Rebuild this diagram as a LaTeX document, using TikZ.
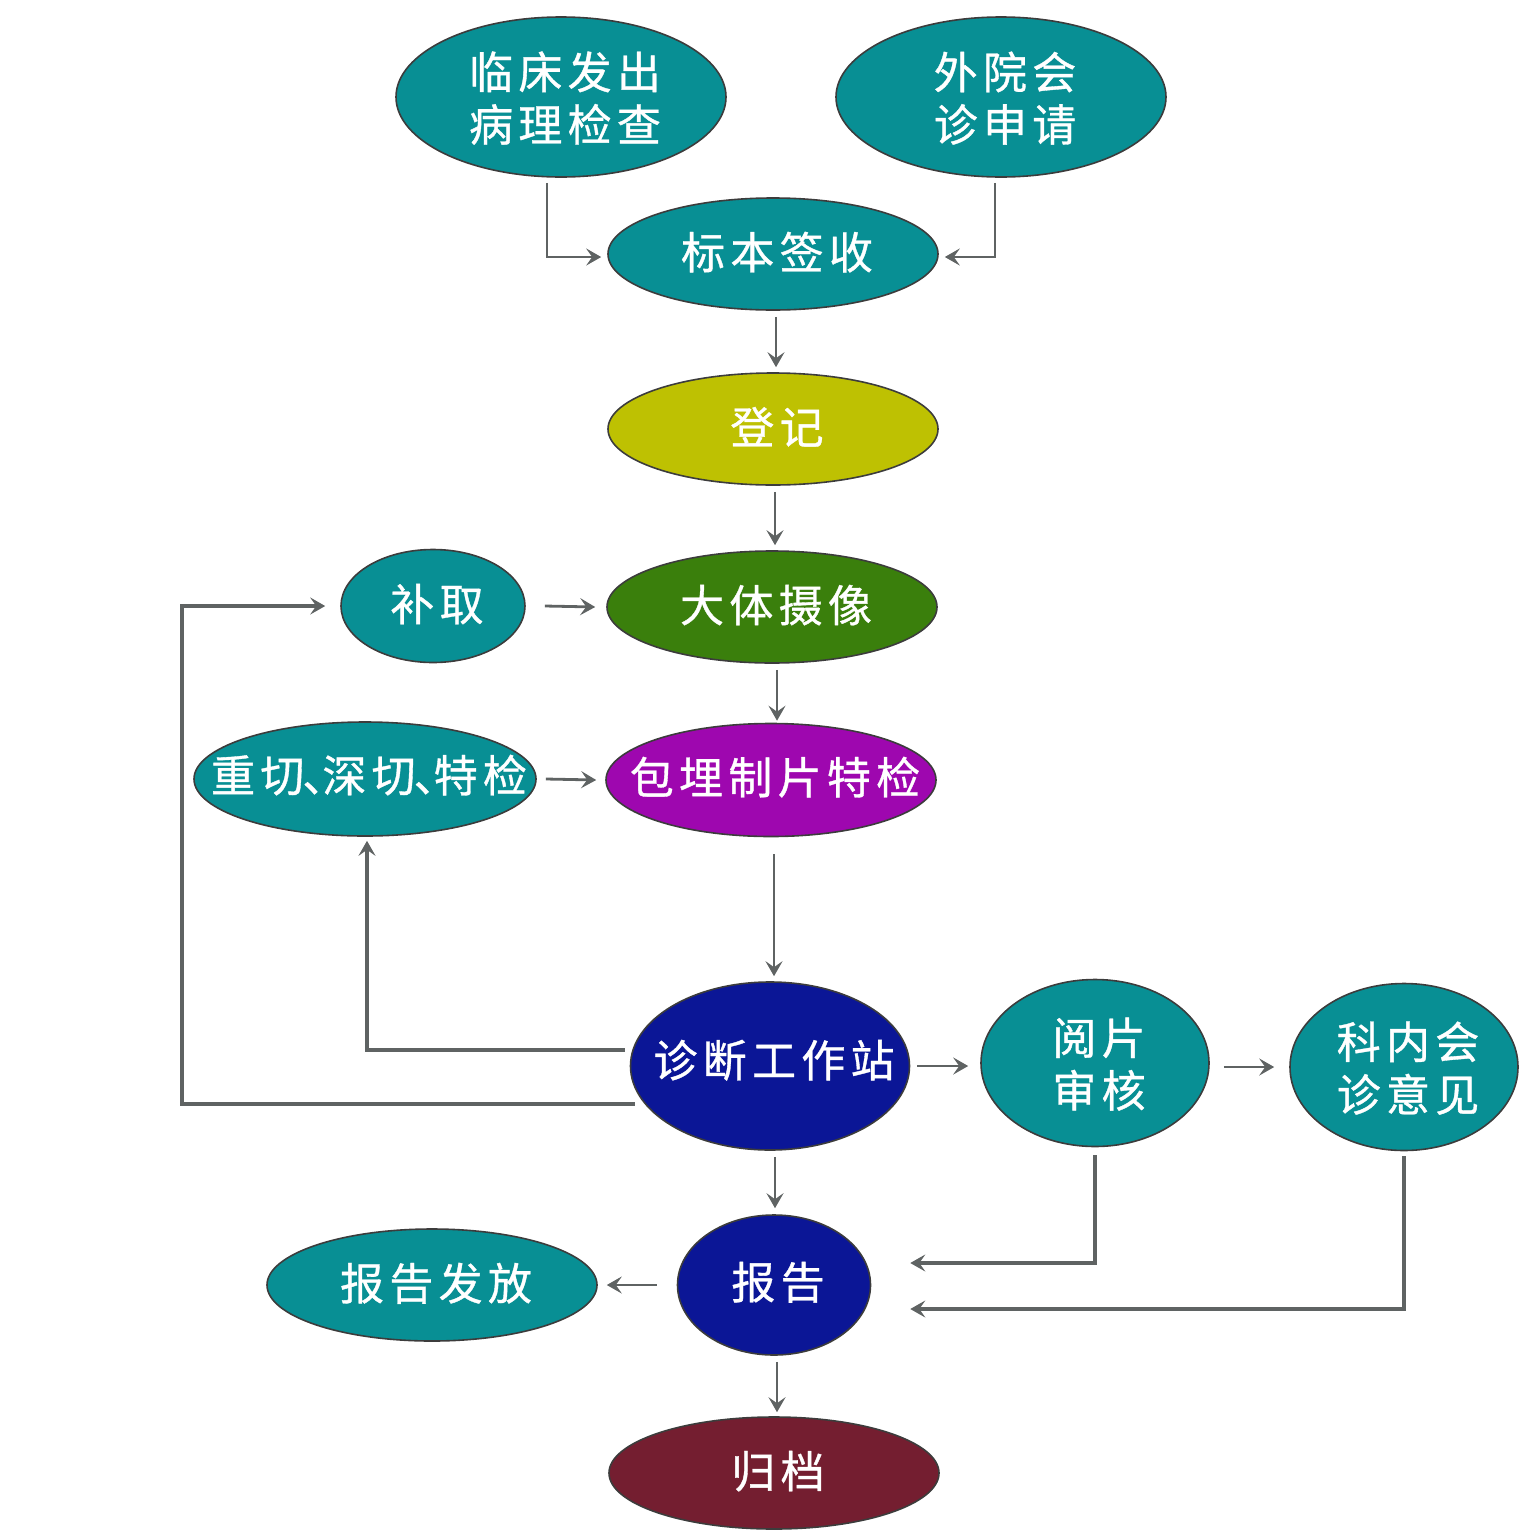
\documentclass[tikz,border=0pt]{standalone}
\usepackage{fontspec}
\setmainfont{Noto Sans CJK SC}[LetterSpace=12,FakeBold=0.8]
\usetikzlibrary{shapes.geometric,arrows.meta,calc}
\definecolor{tealc}{RGB}{8,143,148}
\definecolor{olivec}{RGB}{190,193,2}
\definecolor{greenc}{RGB}{58,127,12}
\definecolor{purplec}{RGB}{158,7,175}
\definecolor{navyc}{RGB}{11,22,150}
\definecolor{maroonc}{RGB}{116,30,48}
\definecolor{linec}{RGB}{95,99,99}
\definecolor{borderc}{RGB}{60,60,60}
\newcommand{\tx}[2][-4pt]{\makebox[0pt][c]{\kern8pt\raisebox{#1}[\height][\depth]{\begin{tabular}{@{}c@{}}#2\end{tabular}}}}
\begin{document}
\begin{tikzpicture}[x=1pt,y=-1pt,
  ell/.style={ellipse, draw=borderc, line width=1.6pt, inner sep=0pt, text=white,
    font=\fontsize{44}{51}\selectfont, fill=tealc},
  arr/.style={draw=linec, line width=2.8pt, -{Stealth[length=15pt,width=17pt,inset=6pt]}},
  arrb/.style={arr, line width=3.5pt},
]
\useasboundingbox (0,0) rectangle (1525,1537);
\node[ell, minimum width=330pt, minimum height=160pt] (lc) at (561,97) {\tx[-7pt]{临床发出\\病理检查}};
\node[ell, minimum width=330pt, minimum height=160pt] (wy) at (1001,97) {\tx[-7pt]{外院会\\诊申请}};
\node[ell, minimum width=330pt, minimum height=112pt] (bb) at (773,254) {\tx{标本签收}};
\node[ell, fill=olivec, minimum width=330pt, minimum height=112pt] (dj) at (773,429) {\tx{登记}};
\node[ell, fill=greenc, minimum width=330pt, minimum height=112pt] (dt) at (772,607) {\tx{大体摄像}};
\node[ell, minimum width=184pt, minimum height=113pt] (bq) at (433,606) {\tx{补取}};
\node[ell, minimum width=342pt, minimum height=114pt] (cq) at (365,779) {\tx[-2pt]{重切\kern-2pt、\kern-24pt 深切\kern-2pt、\kern-24pt 特检}};
\node[ell, fill=purplec, minimum width=330pt, minimum height=113pt] (bm) at (771,780) {\tx[-3pt]{包埋制片特检}};
\node[ell, fill=navyc, minimum width=279pt, minimum height=168pt] (zd) at (770,1066) {\tx[0pt]{诊断工作站}};
\node[ell, minimum width=228pt, minimum height=167pt] (yp) at (1095,1063) {\tx[-7pt]{阅片\\审核}};
\node[ell, minimum width=228pt, minimum height=167pt] (kn) at (1404,1067) {\tx[-7pt]{科内会\\诊意见}};
\node[ell, fill=navyc, minimum width=193pt, minimum height=140pt] (bg) at (774,1285) {\tx[-3pt]{报告}};
\node[ell, minimum width=330pt, minimum height=112pt] (ff) at (432,1285) {\tx{报告发放}};
\node[ell, fill=maroonc, minimum width=330pt, minimum height=112pt] (gd) at (774,1473) {\tx{归档}};
\coordinate (lx) at (182,1104);

\draw[arr] ([xshift=-14pt,yshift=-5pt]lc.south) |- ([xshift=-6pt,yshift=-3pt]bb.west);
\draw[arr] ([xshift=-6pt,yshift=-5pt]wy.south) |- ([xshift=6pt,yshift=-3pt]bb.east);
\draw[arr] ([xshift=3pt,yshift=-6pt]bb.south) -- ([xshift=3pt,yshift=5pt]dj.north);
\draw[arr] ([xshift=2pt,yshift=-6pt]dj.south) -- ([xshift=3pt,yshift=5pt]dt.north);
\draw[arr] ([xshift=19pt]bq.east) -- ([xshift=-11pt]dt.west);
\draw[arr] ([xshift=5pt,yshift=-6pt]dt.south) -- ([xshift=6pt,yshift=2pt]bm.north);
\draw[arr] ([xshift=9pt]cq.east) -- ([xshift=-9pt]bm.west);
\draw[arr] ([xshift=3pt,yshift=-17pt]bm.south) -- ([xshift=4pt,yshift=5pt]zd.north);
\draw[arrb] ([xshift=-5pt,yshift=16pt]zd.west) -| ([xshift=2pt,yshift=-4pt]cq.south);
\draw[arrb] ([xshift=5pt,yshift=-38pt]zd.west) -- (lx) |- ([xshift=-15pt]bq.west);
\draw[arr] ([xshift=7pt]zd.east) -- ([xshift=-12pt,yshift=-3pt]yp.west);
\draw[arr] ([xshift=14pt,yshift=-4pt]yp.east) -- ([xshift=-15pt]kn.west);
\draw[arr] ([xshift=5pt,yshift=-6pt]zd.south) -- ([xshift=1pt,yshift=6pt]bg.north);
\draw[arrb] ([yshift=-8pt]yp.south) |- ([xshift=39pt,yshift=22pt]bg.east);
\draw[arrb] ([yshift=-5pt]kn.south) |- ([xshift=39pt,yshift=-24pt]bg.east);
\draw[arr] ([xshift=-20pt]bg.west) -- ([xshift=9pt]ff.east);
\draw[arr] ([xshift=3pt,yshift=-6pt]bg.south) -- ([xshift=3pt,yshift=4pt]gd.north);
\end{tikzpicture}
\end{document}
